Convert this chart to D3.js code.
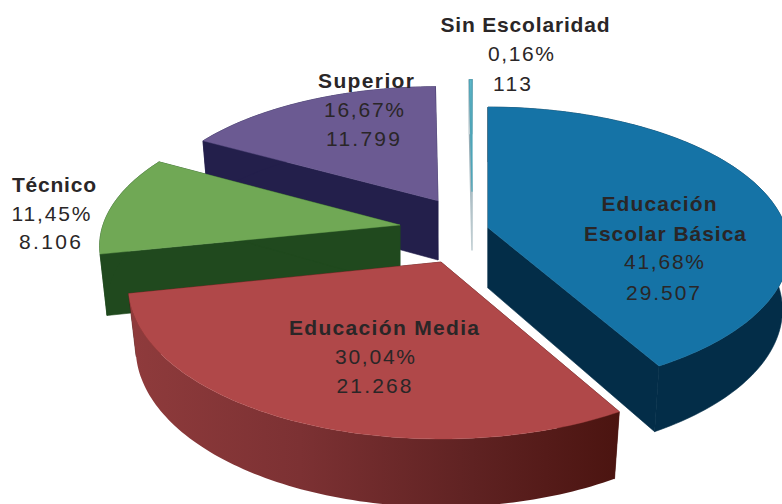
<!DOCTYPE html>
<html lang="es">
<head>
<meta charset="UTF-8">
<title>Escolaridad</title>
<script src="https://cdn.jsdelivr.net/npm/d3@7"></script>
<style>
    html, body { margin: 0; padding: 0; background: #fff; overflow: hidden; }
    text { font-family: "Liberation Sans", Arial, sans-serif; fill: #2a2627; text-anchor: middle; }
    .name { font-weight: bold; font-size: 21px; }
    .val { font-size: 21px; }
</style>
</head>
<body>
<div id="chart"></div>
<script>
// data
var categories = ["Educación Escolar Básica", "Educación Media", "Técnico", "Superior", "Sin Escolaridad"];
var counts = [29507, 21268, 8106, 11799, 113];
var percents = ["41,68%", "30,04%", "11,45%", "16,67%", "0,16%"];
var countLabels = ["29.507", "21.268", "8.106", "11.799", "113"];

// look of each slice, same order as categories
var topColors = ["#1573a6", "#b04849", "#70a855", "#6b5a92", "url(#sliverTop)"];
var wallColors = ["#032d48", "url(#redWall)", "#20491e", "#231f4b", "url(#sliverWall)"];
var shiftX = [48, 1, -40, -2, 32];   // pixels, sideways explosion
var shiftV = [0.02, 0.258, 0, -0.18, -0.25];  // explosion towards the viewer
var drawOrder = [3, 4, 2, 0, 1];

// label lines: [text, class, x, baseline, width]
var labelLines = [
    [["Educación", "name", 659, 211, 115], ["Escolar Básica", "name", 665, 241, 162], [percents[0], "val", 664, 269, 80], [countLabels[0], "val", 663, 300, 74]],
    [["Educación Media", "name", 384, 335, 190], [percents[1], "val", 375, 364, 80], [countLabels[1], "val", 374, 393, 75]],
    [["Técnico", "name", 54, 192, 84], [percents[2], "val", 51, 221, 79], [countLabels[2], "val", 50, 249, 62]],
    [["Superior", "name", 366, 88, 96], [percents[3], "val", 364, 117, 80], [countLabels[3], "val", 363, 146, 74]],
    [["Sin Escolaridad", "name", 525, 32, 169], [percents[4], "val", 521, 61, 66], [countLabels[4], "val", 512, 91, 38]]
];

var width = 782;
var height = 504;
var cx = 440, cy = 225;
var rx = 297, ry = 138;
var persp = 0.15;    // how much nearer points grow
var depth = 61.6;

var svg = d3.select("#chart")
    .append("svg")
    .attr("width", width)
    .attr("height", height)
    .style("display", "block");

var defs = svg.append("defs");

function addGradient(id, x2, y2, stops) {
    var g = defs.append("linearGradient").attr("id", id)
        .attr("x1", 0).attr("y1", 0).attr("x2", x2).attr("y2", y2);
    stops.forEach(function (s) {
        g.append("stop").attr("offset", s[0]).attr("stop-color", s[1]);
    });
}
addGradient("redWall", 1, 0, [[0, "#8f3b3c"], [0.35, "#7c3133"], [0.7, "#5f2222"], [1, "#4b1410"]]);
addGradient("sliverTop", 0, 1, [[0, "#62bccd"], [1, "#3f8fa3"]]);
addGradient("sliverWall", 0, 1, [[0, "#7d9aa6"], [1, "#c3d0d4"]]);

// disc coordinates to screen, low = bottom face of the slab
function project(i, u, v, low) {
    var vv = v + shiftV[i];
    var s = 1 / (1 - persp * vv + (low ? 0.023 : 0));
    return [
        cx + shiftX[i] + rx * u * s,
        cy + (ry * vv + (low ? depth : 0)) * s
    ];
}

var pie = d3.pie().sort(null).startAngle(0).endAngle(2 * Math.PI);
var arcs = pie(counts);
var line = d3.line();

function rimPoints(i, d, low) {
    var n = Math.max(2, Math.ceil((d.endAngle - d.startAngle) / 0.02));
    return d3.range(n + 1).map(function (k) {
        var a = d.startAngle + (d.endAngle - d.startAngle) * k / n;
        return project(i, Math.sin(a), -Math.cos(a), low);
    });
}

drawOrder.forEach(function (i) {
    var d = arcs[i];
    var g = svg.append("g");
    var topRim = rimPoints(i, d, false);
    var lowRim = rimPoints(i, d, true);
    var apexTop = project(i, 0, 0, false);
    var apexLow = project(i, 0, 0, true);
    var first = topRim[0], last = topRim[topRim.length - 1];
    var firstLow = lowRim[0], lastLow = lowRim[lowRim.length - 1];
    var seam = i === 4 ? 1.6 : 0.6;   // hides the hairlines between faces, thickens the sliver

    // radial walls first, then the outer wall, then the top
    var wallFill = i === 1 ? "#4b1410" : wallColors[i];
    g.append("path").attr("d", line([apexTop, first, firstLow, apexLow]) + "Z")
        .attr("fill", wallFill).attr("stroke", wallFill).attr("stroke-width", seam);
    g.append("path").attr("d", line([apexTop, last, lastLow, apexLow]) + "Z")
        .attr("fill", wallFill).attr("stroke", wallFill).attr("stroke-width", seam);
    g.append("path").attr("d", line(topRim.concat(lowRim.slice().reverse())) + "Z")
        .attr("fill", wallColors[i]).attr("stroke", wallFill).attr("stroke-width", i === 1 ? 0 : seam);
    g.append("path").attr("d", line([apexTop].concat(topRim)) + "Z")
        .attr("fill", topColors[i]).attr("stroke", i === 4 ? "#4ea5b8" : topColors[i]).attr("stroke-width", i === 4 ? 1.2 : 0.4);
});

labelLines.forEach(function (lines) {
    svg.append("g").selectAll("text")
        .data(lines)
        .enter()
        .append("text")
        .attr("class", function (l) { return l[1]; })
        .attr("x", function (l) { return l[2]; })
        .attr("y", function (l) { return l[3]; })
        .attr("textLength", function (l) { return l[4]; })
        .attr("lengthAdjust", "spacing")
        .text(function (l) { return l[0]; });
});
</script>
</body>
</html>
